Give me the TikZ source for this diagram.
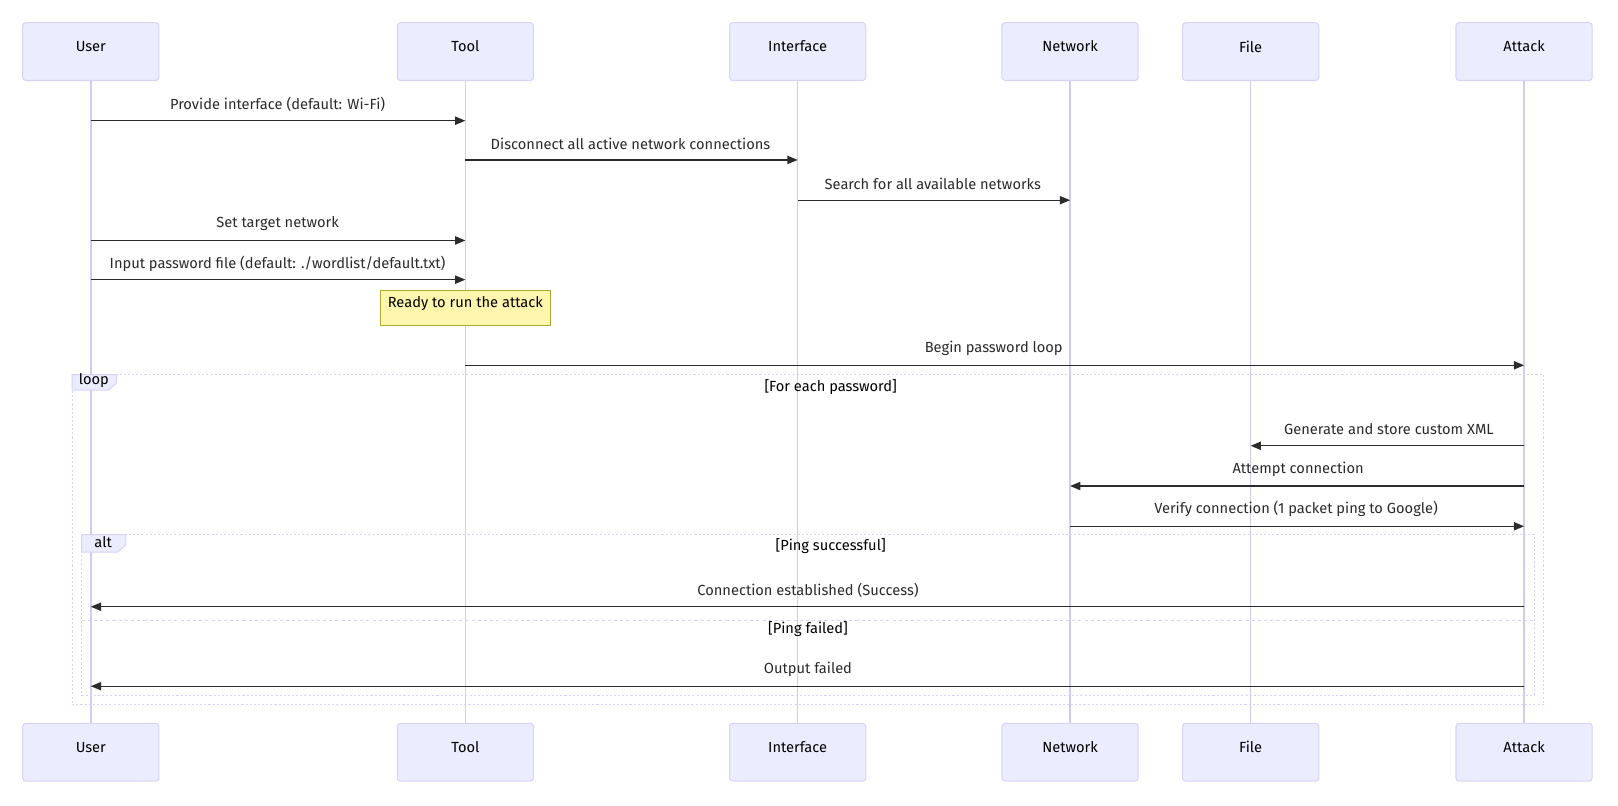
\documentclass[tikz,border=0pt]{standalone}
\usepackage{fontspec}
\setmainfont{Fira Sans}
\usetikzlibrary{arrows.meta}
\definecolor{actfill}{HTML}{ECECFF}
\definecolor{actline}{HTML}{D9D2F6}
\definecolor{lifecol}{HTML}{D3C9F3}
\definecolor{msgcol}{HTML}{2B2B2B}
\definecolor{notefill}{HTML}{FFF5AD}
\definecolor{noteline}{HTML}{AAAA33}
\begin{document}
\begin{tikzpicture}[x=1pt,y=-1pt, font=\fontsize{14.2}{17}\selectfont,
 actor/.style={draw=actline, fill=actfill, line width=1pt, rounded corners=3pt, minimum width=132pt, minimum height=56pt, inner sep=0pt},
 life/.style={draw=lifecol, line width=1.5pt},
 msg/.style={draw=msgcol, line width=1.3pt, -{Triangle[length=10pt,width=8pt]}},
 mlabel/.style={text=msgcol, inner sep=0pt, anchor=center},
 flabel/.style={text=black, inner sep=0pt, anchor=center},
 frame/.style={draw=actline, line width=1.2pt, dash pattern=on 2pt off 2pt},
 tab/.style={draw=actline, fill=actfill, line width=1pt},
]
\useasboundingbox[fill=white] (0,0) rectangle (1568,781);

% actors top and bottom, with lifelines
\foreach \n/\x/\t in {u/88/User, t/451/Tool, i/773/Interface, n/1037/Network, f/1212/File, a/1477/Attack}{
  \node[actor, label={[yshift=5pt]center:\t}] (\n T) at (\x,50) {};
  \node[actor, label={[yshift=5pt]center:\t}] (\n B) at (\x,729) {};
  \draw[life] (\n T.south) -- (\n B.north);
}

% messages
\node[mlabel] (m1) at (269,101) {Provide interface (default: Wi-Fi)};
\draw[msg] (uT |- 0,117) -- (tT |- 0,117);
\node[mlabel] (m2) at (611,139) {Disconnect all active network connections};
\draw[msg] (tT |- 0,155) -- (iT |- 0,155);
\node[mlabel] (m3) at (904,178) {Search for all available networks};
\draw[msg] (iT |- 0,194) -- (nT |- 0,194);
\node[mlabel] (m4) at (269,217) {Set target network};
\draw[msg] (uT |- 0,233) -- (tT |- 0,233);
\node[mlabel] (m5) at (269,256) {Input password file (default: ./wordlist/default.txt)};
\draw[msg] (uT |- 0,271) -- (tT |- 0,271);

% note
\node[draw=noteline, fill=notefill, line width=0.8pt, minimum width=164pt, minimum height=34pt, inner sep=0pt] (note) at (451,298) {};
\node[flabel] (notet) at (451,294) {Ready to run the attack};

\node[mlabel] (m6) at (963,338) {Begin password loop};
\draw[msg] (tT |- 0,354) -- (aT |- 0,354);

% loop frame
\draw[frame] (70,363) rectangle (1496,683);
\draw[tab] (70,363) -- (113,363) -- (113,371) -- (105,378) -- (70,378) -- cycle;
\node[flabel] (looplab) at (91,369) {loop};
\node[flabel] (loopcond) at (805,375) {[For each password]};

\node[mlabel] (m7) at (1346,416) {Generate and store custom XML};
\draw[msg] (aT |- 0,432) -- (fT |- 0,432);
\node[mlabel] (m8) at (1258,455) {Attempt connection};
\draw[msg] (aT |- 0,471) -- (nT |- 0,471);
\node[mlabel] (m9) at (1256,493) {Verify connection (1 packet ping to Google)};
\draw[msg] (nT |- 0,510) -- (aT |- 0,510);

% alt frame
\draw[frame] (79,518) rectangle (1487,674);
\draw[tab] (79,518) -- (122,518) -- (122,528) -- (114,535) -- (79,535) -- cycle;
\node[flabel] (altlab) at (100,525) {alt};
\node[flabel] (altc1) at (805,529) {[Ping successful]};
\node[mlabel] (m10) at (783,572) {Connection established (Success)};
\draw[msg] (aT |- 0,588) -- (uT |- 0,588);
\draw[frame, dash pattern=on 3pt off 3pt] (79,601) -- (1487,601);
\node[flabel] (altc2) at (783,610) {[Ping failed]};
\node[mlabel] (m11) at (783,649) {Output failed};
\draw[msg] (aT |- 0,665) -- (uT |- 0,665);
\end{tikzpicture}
\end{document}
